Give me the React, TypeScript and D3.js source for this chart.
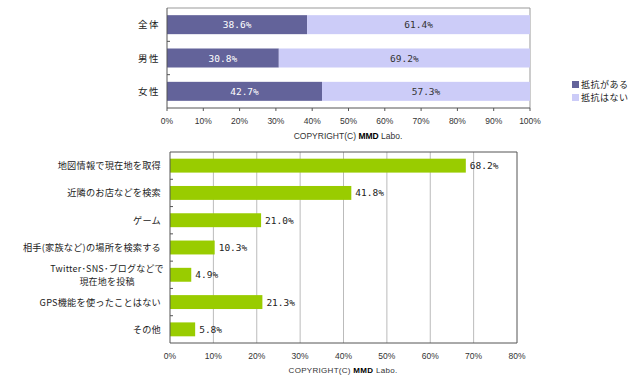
import React from "react";
import * as d3 from "d3";

const topCategories = ["全体", "男性", "女性"];
const topYes = [38.6, 30.8, 42.7];
const topNo = [61.4, 69.2, 57.3];
const topTicks = [0, 10, 20, 30, 40, 50, 60, 70, 80, 90, 100];
const legendLabels = ["抵抗がある", "抵抗はない"];

const botCategories = [
  ["地図情報で現在地を取得"],
  ["近隣のお店などを検索"],
  ["ゲーム"],
  ["相手(家族など)の場所を検索する"],
  ["Twitter･SNS･ブログなどで", "現在地を投稿"],
  ["GPS機能を使ったことはない"],
  ["その他"],
];
const botValues = [68.2, 41.8, 21.0, 10.3, 4.9, 21.3, 5.8];
const botTicks = [0, 10, 20, 30, 40, 50, 60, 70, 80];

const DARK = "#63639a";
const LIGHT = "#ccccf8";
const GREEN = "#99cc00";
const JP = "'Noto Sans CJK JP', sans-serif";
const MONO = "'DejaVu Sans Mono', monospace";
const SANS = "'Liberation Sans', Arial, sans-serif";

export default function App() {
  const W = 640, H = 379;
  const tx = d3.scaleLinear().domain([0, 100]).range([167, 530]);
  const ty = d3.scaleBand<string>().domain(topCategories).range([8, 108]).paddingInner(0.43).paddingOuter(0.215);
  const bKeys = botCategories.map((_, i) => String(i));
  const bx = d3.scaleLinear().domain([0, 80]).range([170, 517]);
  const by = d3.scaleBand<string>().domain(bKeys).range([152, 343]).paddingInner(0.49).paddingOuter(0.245);

  const tStep = ty.step();
  const bStep = by.step();

  return (
    <svg width={W} height={H} style={{ position: "absolute", left: 0, top: 0, background: "#fff" }}>
      <rect x={0} y={0} width={W} height={H} fill="#fff" />
      {/* ---------- top chart ---------- */}
      <g>
        <line x1={tx(0)} x2={tx(100)} y1={8} y2={8} stroke="#999" strokeWidth={1} />
        <line x1={tx(100)} x2={tx(100)} y1={8} y2={108} stroke="#999" strokeWidth={1} />
        {topCategories.map((c, i) => {
          const y = ty(c)!;
          const bw = ty.bandwidth();
          return (
            <g key={c}>
              <rect x={tx(0)} y={y} width={tx(topYes[i]) - tx(0)} height={bw} fill={DARK} />
              <rect x={tx(topYes[i])} y={y} width={tx(topYes[i] + topNo[i]) - tx(topYes[i])} height={bw} fill={LIGHT} />
              <text x={(tx(0) + tx(topYes[i])) / 2} y={y + bw / 2 + 3.5} textAnchor="middle" fontFamily={MONO} fontSize={9.5} fill="#fff">
                {topYes[i].toFixed(1)}%
              </text>
              <text x={(tx(topYes[i]) + tx(100)) / 2} y={y + bw / 2 + 3.5} textAnchor="middle" fontFamily={MONO} fontSize={9.5} fill="#333">
                {topNo[i].toFixed(1)}%
              </text>
              <text x={160} y={y + bw / 2 + 3.5} textAnchor="end" fontFamily={JP} fontSize={9.5} letterSpacing={1.5} fill="#222">
                {c}
              </text>
            </g>
          );
        })}
        {[1, 2].map((k) => (
          <line key={k} x1={tx(0)} x2={tx(0) + 3} y1={8 + k * tStep + (100 - 3 * tStep) / 2} y2={8 + k * tStep + (100 - 3 * tStep) / 2} stroke="#555" />
        ))}
        <line x1={tx(0)} x2={tx(0)} y1={8} y2={108} stroke="#555" />
        <line x1={tx(0)} x2={tx(100)} y1={108} y2={108} stroke="#555" />
        {topTicks.map((t) => (
          <g key={t}>
            <line x1={tx(t)} x2={tx(t)} y1={108} y2={111} stroke="#555" />
            <text x={tx(t)} y={124} textAnchor="middle" fontFamily={SANS} fontSize={8.5} fill="#333">
              {t}%
            </text>
          </g>
        ))}
        <text x={348} y={139} textAnchor="middle" fontFamily={SANS} fontSize={8.5} fill="#333">
          COPYRIGHT(C) <tspan fontWeight="bold" fill="#000">MMD</tspan> Labo.
        </text>
      </g>
      {/* legend */}
      <g>
        {legendLabels.map((l, i) => (
          <g key={l}>
            <rect x={572} y={81 + i * 13} width={7} height={7} fill={i === 0 ? DARK : LIGHT} />
            <text x={581} y={88 + i * 13} fontFamily={JP} fontSize={9} letterSpacing={0.5} fill="#222">
              {l}
            </text>
          </g>
        ))}
      </g>
      {/* ---------- bottom chart ---------- */}
      <g>
        {botTicks.slice(1).map((t) => (
          <line key={t} x1={bx(t)} x2={bx(t)} y1={152} y2={343} stroke={t === 80 ? "#555" : "#bbb"} />
        ))}
        <line x1={bx(0)} x2={bx(80)} y1={152} y2={152} stroke="#555" />
        {botCategories.map((lines, i) => {
          const y = by(String(i))!;
          const bw = by.bandwidth();
          const cy = y + bw / 2;
          return (
            <g key={i}>
              <rect x={bx(0)} y={y} width={bx(botValues[i]) - bx(0)} height={bw} fill={GREEN} />
              <text x={bx(botValues[i]) + 4} y={cy + 3.5} fontFamily={MONO} fontSize={9.5} fill="#222">
                {botValues[i].toFixed(1)}%
              </text>
              {lines.length === 1 ? (
                <text x={161} y={cy + 3.5} textAnchor="end" fontFamily={JP} fontSize={9.2} letterSpacing={0.2} fill="#222">
                  {lines[0]}
                </text>
              ) : (
                lines.map((ln, j) => (
                  <text key={j} x={107} y={cy - 3 + j * 13} textAnchor="middle" fontFamily={JP} fontSize={9} letterSpacing={0.2} fill="#222">
                    {ln}
                  </text>
                ))
              )}
            </g>
          );
        })}
        {d3.range(1, botCategories.length).map((k) => {
          const yy = 152 + (191 - botCategories.length * bStep) / 2 + k * bStep;
          return <line key={k} x1={bx(0)} x2={bx(0) + 3} y1={yy} y2={yy} stroke="#555" />;
        })}
        <line x1={bx(0)} x2={bx(0)} y1={152} y2={343} stroke="#555" />
        <line x1={bx(0)} x2={bx(80)} y1={343} y2={343} stroke="#555" />
        {botTicks.map((t) => (
          <text key={t} x={bx(t)} y={359} textAnchor="middle" fontFamily={SANS} fontSize={8.5} fill="#333">
            {t}%
          </text>
        ))}
        <text x={343} y={373} textAnchor="middle" fontFamily={SANS} fontSize={8} letterSpacing={0.3} fill="#333">
          COPYRIGHT(C) <tspan fontWeight="bold" fill="#000">MMD</tspan> Labo.
        </text>
      </g>
    </svg>
  );
}
